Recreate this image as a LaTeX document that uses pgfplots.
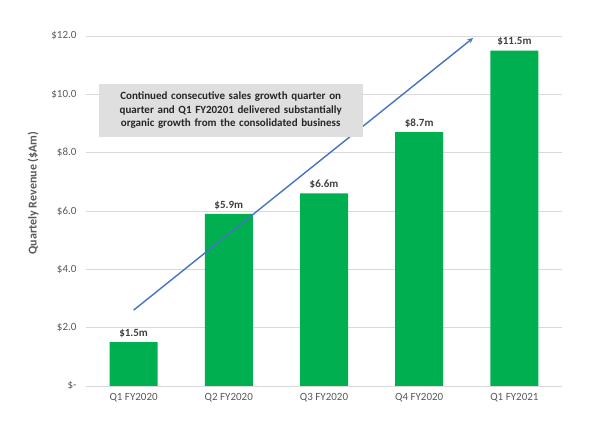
\documentclass[border=0pt]{standalone}
\usepackage{pgfplots}
\pgfplotsset{compat=1.18}
\usepackage{fontspec}
\setmainfont{Carlito}
\definecolor{bargreen}{HTML}{00B050}
\definecolor{ticktxt}{HTML}{595959}
\definecolor{lbltxt}{HTML}{404040}
\definecolor{gridc}{HTML}{D9D9D9}
\definecolor{arrowc}{HTML}{4472C4}
\begin{document}
\begin{tikzpicture}[x=1pt,y=1pt]
\useasboundingbox (-86,-39) rectangle (521,386);
\begin{axis}[
  at={(0,0)}, anchor=south west,
  scale only axis, width=476pt, height=350pt,
  xmin=-0.5, xmax=4.5, ymin=0, ymax=12,
  ybar, bar width=48pt,
  /pgf/number format/assume math mode=true,
  xtick={0,1,2,3,4},
  xticklabels={Q1 FY2020,Q2 FY2020,Q3 FY2020,Q4 FY2020,Q1 FY2021},
  ytick={0,2,4,6,8,10,12},
  yticklabels={\$-,\$2.0,\$4.0,\$6.0,\$8.0,\$10.0,\$12.0},
  ymajorgrids, grid style={gridc, line width=0.8pt},
  axis line style={draw=none},
  major tick length=0pt,
  tick label style={font=\fontsize{11}{13}\selectfont, text=ticktxt},
  xticklabel style={yshift=-4pt},
  yticklabel style={xshift=-6pt},
  ylabel={\textbf{Quartely Revenue (\$Am)}},
  ylabel style={font=\fontsize{12}{14}\selectfont, text=ticktxt, yshift=6pt, xshift=18pt},
  nodes near coords={\textbf{\$\pgfmathprintnumber[fixed,precision=1,fixed zerofill,assume math mode=true]{\pgfplotspointmeta}m}},
  nodes near coords style={font=\bfseries\fontsize{11}{13}\selectfont, text=lbltxt, yshift=1pt},
  clip=false,
]
\draw[gridc, line width=0.8pt] (axis cs:-0.5,0) -- (axis cs:4.5,0);
\addplot[fill=bargreen, draw=none] coordinates {(0,1.5) (1,5.9) (2,6.6) (3,8.7) (4,11.5)};
\addplot[sharp plot, no marks, arrowc, line width=1.4pt, -stealth, nodes near coords={}, forget plot] coordinates {(0,2.6) (3.565,11.93)};
\node[fill=gridc!85!white, text width=256pt, align=center, inner sep=4pt, minimum height=53pt,
  font=\bfseries\fontsize{11}{13.5}\selectfont, text=black!85] at (axis cs:1.02,9.46)
  {Continued consecutive sales growth quarter on\\quarter and Q1 FY20201 delivered substantially\\organic growth from the consolidated business};
\end{axis}
\end{tikzpicture}
\end{document}
